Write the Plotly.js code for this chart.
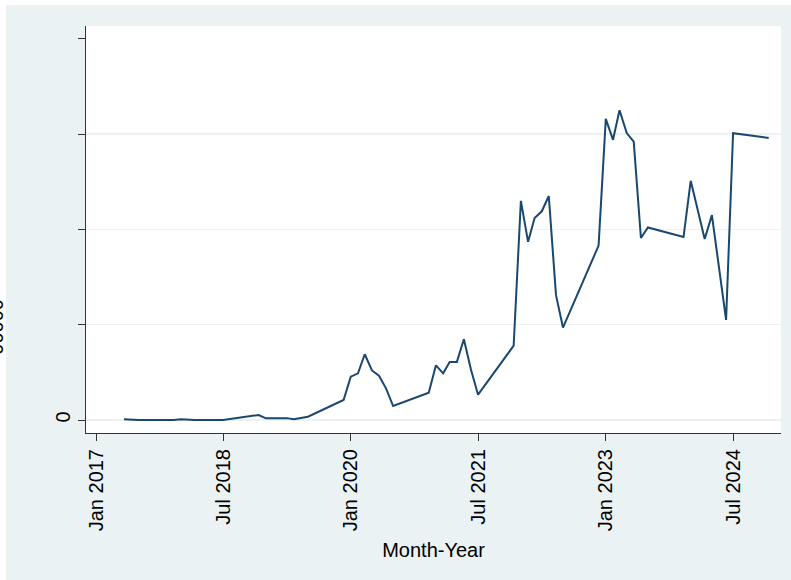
<!DOCTYPE html>
<html>
<head>
<meta charset="utf-8">
<script src="https://cdn.plot.ly/plotly-3.0.1.min.js"></script>
<style>
  html, body { margin: 0; padding: 0; background: #ffffff; width: 791px; height: 580px; overflow: hidden; }
  #bg { position: absolute; left: 6px; top: 5px; width: 785px; height: 575px; background: #eaf2f3; }
  #chart { position: absolute; left: 0; top: 0; width: 791px; height: 580px; }
</style>
</head>
<body>
<div id="bg"></div>
<div id="chart"></div>
<script>
// Monthly observations (missing months are simply absent and the line joins across them)
const months = [
  "2017-05","2017-06","2017-07","2017-08","2017-09","2017-10","2017-11","2017-12",
  "2018-01","2018-02","2018-03","2018-04","2018-05","2018-06","2018-07","2018-12",
  "2019-01","2019-02","2019-03","2019-04","2019-05","2019-06","2019-07","2019-12",
  "2020-01","2020-02","2020-03","2020-04","2020-05","2020-06","2020-07","2020-12",
  "2021-01","2021-02","2021-03","2021-04","2021-05","2021-06","2021-07","2021-12",
  "2022-01","2022-02","2022-03","2022-04","2022-05","2022-06","2022-07","2022-12",
  "2023-01","2023-02","2023-03","2023-04","2023-05","2023-06","2023-07","2023-12",
  "2024-01","2024-03","2024-04","2024-06","2024-07","2024-12"
];
const values = [
  400, 0, 0, 0, 0, 0, 0, 0,
  400, 0, 0, 0, 0, 0, 0, 2650,
  900, 1000, 1000, 1000, 400, 900, 1750, 10500,
  22750, 24500, 34500, 26000, 23250, 16500, 7350, 14350,
  28700, 24500, 30500, 30500, 42350, 26250, 13300, 39000,
  115000, 93500, 106000, 109500, 117500, 65500, 48500, 91500,
  158000, 147000, 162500, 150500, 146000, 95500, 101000, 96000,
  125500, 95000, 107500, 52500, 150500, 148000
];

const xTickVals = ["2017-01-01","2018-07-01","2020-01-01","2021-07-01","2023-01-01","2024-07-01"];
const xTickText = ["Jan 2017","Jul 2018","Jan 2020","Jul 2021","Jan 2023","Jul 2024"];
const yGridVals = [0, 50000, 100000, 150000];
const yGridText = ["0", "", "", ""];
const yTopTick = [200000];

const xDates = months.map(m => m + "-01");

const FONT = "Liberation Sans, Arial, Helvetica, sans-serif";
const yRange = [-6800, 206700];

const trace = {
  x: xDates,
  y: values,
  type: "scatter",
  mode: "lines",
  line: { color: "#1a476f", width: 2 },
  hoverinfo: "x+y"
};

const layout = {
  width: 791,
  height: 580,
  margin: { l: 86, r: 10, t: 26, b: 147, pad: 0 },
  paper_bgcolor: "rgba(0,0,0,0)",
  plot_bgcolor: "#ffffff",
  showlegend: false,
  font: { family: FONT, size: 20, color: "#000000" },
  xaxis: {
    type: "date",
    range: ["2016-11-19", "2025-01-23"],
    tickvals: xTickVals,
    ticktext: xTickText,
    tickangle: -90,
    ticks: "outside",
    ticklen: 7,
    tickwidth: 1,
    tickcolor: "#333333",
    showline: true,
    linecolor: "#333333",
    linewidth: 1,
    showgrid: false,
    zeroline: false,
    tickfont: { family: FONT, size: 20, color: "#000000" },
    title: { text: "Month-Year", font: { family: FONT, size: 20, color: "#000000" }, standoff: 12 }
  },
  yaxis: {
    range: yRange,
    tickvals: yGridVals,
    ticktext: yGridText,
    tickangle: -90,
    ticks: "outside",
    ticklen: 7,
    tickwidth: 1,
    tickcolor: "#333333",
    showline: true,
    linecolor: "#333333",
    linewidth: 1,
    showgrid: true,
    gridcolor: "#eaf2f3",
    gridwidth: 1.5,
    zeroline: false,
    tickfont: { family: FONT, size: 20, color: "#000000" },
    minor: {
      tickmode: "array",
      tickvals: yTopTick,
      ticks: "outside",
      ticklen: 7,
      tickwidth: 1,
      tickcolor: "#333333",
      showgrid: false
    }
  },
  annotations: [{
    text: "00000",
    textangle: -90,
    xref: "paper", yref: "paper",
    x: -0.110, y: 0.26,
    xanchor: "right", yanchor: "middle",
    showarrow: false,
    font: { family: FONT, size: 20, color: "#000000" }
  }]
};

Plotly.newPlot("chart", [trace], layout, { displayModeBar: false, staticPlot: true });
</script>
</body>
</html>
